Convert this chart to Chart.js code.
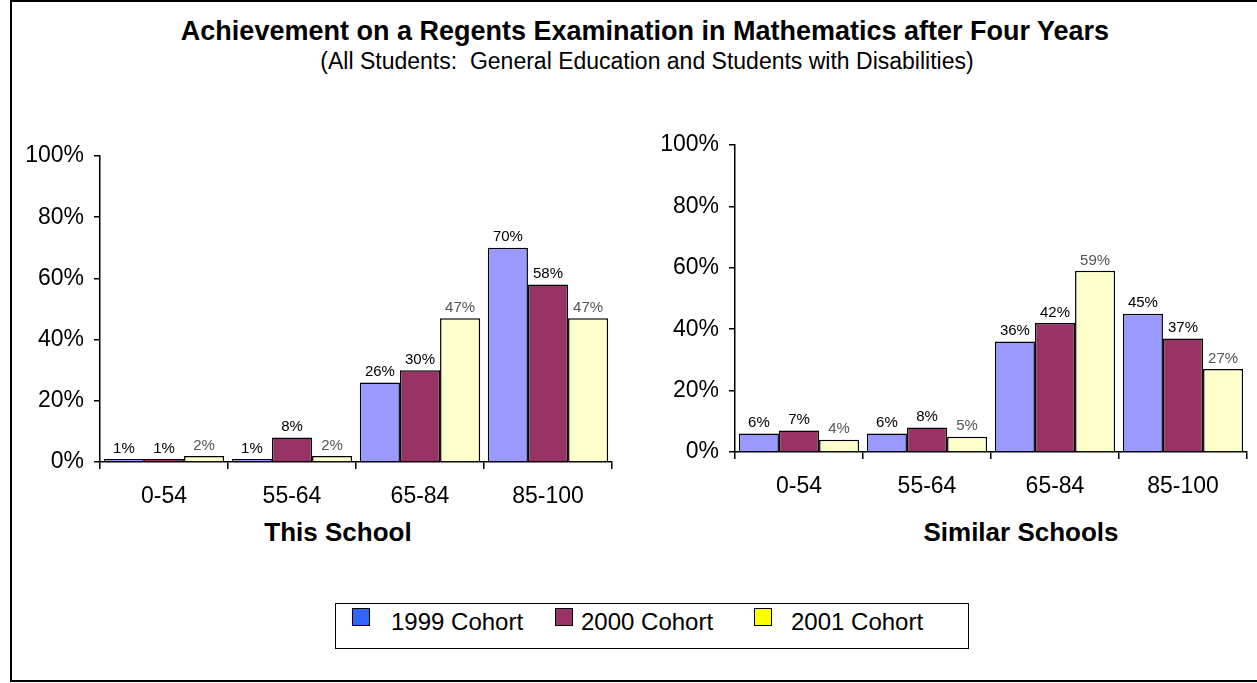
<!DOCTYPE html>
<html>
<head>
<meta charset="utf-8">
<script src="https://cdn.jsdelivr.net/npm/chart.js"></script>
<style>
  body { margin: 0; width: 1257px; height: 683px; overflow: hidden; background: #fff;
         font-family: "Liberation Sans", Arial, sans-serif; color: #000; }
  .frame { position: absolute; left: 10px; top: 0; width: 1270px; height: 682px;
           border: 2px solid #000; box-sizing: border-box; }
  .txt { position: absolute; white-space: nowrap; transform: translate(-50%, -50%); }
  #title { left: 645px; top: 31px; font-size: 27px; font-weight: bold; }
  #subtitle { left: 647px; top: 61px; font-size: 23px; }
  #leftName { left: 338px; top: 532px; font-size: 26px; font-weight: bold; }
  #rightName { left: 1021px; top: 532px; font-size: 26px; font-weight: bold; }
  .chartBox { position: absolute; }
  #leftBox { left: 10px; top: 140px; width: 610px; height: 372px; }
  #rightBox { left: 645px; top: 129px; width: 610px; height: 373px; }
  #legend { position: absolute; left: 335px; top: 603px; width: 634px; height: 46px;
            border: 1.5px solid #000; box-sizing: border-box; font-size: 24px; }
  .sw { position: absolute; width: 16px; height: 16px; border: 1.5px solid #000; }
  .lbl { position: absolute; line-height: 28px; }
</style>
</head>
<body>
<div class="frame"></div>
<div id="title" class="txt">Achievement on a Regents Examination in Mathematics after Four Years</div>
<div id="subtitle" class="txt">(All Students:&nbsp; General Education and Students with Disabilities)</div>

<div id="leftBox" class="chartBox"><canvas id="thisSchool"></canvas></div>
<div id="rightBox" class="chartBox"><canvas id="similarSchools"></canvas></div>

<div id="leftName" class="txt">This School</div>
<div id="rightName" class="txt">Similar Schools</div>

<div id="legend"></div>

<script>
const categories = ['0-54', '55-64', '65-84', '85-100'];
const cohorts = ['1999 Cohort', '2000 Cohort', '2001 Cohort'];

// This School
const school1999 = [1, 1, 26, 70];
const school2000 = [1, 8, 30, 58];
const school2001 = [2, 2, 47, 47];

// Similar Schools
const similar1999 = [6, 6, 36, 45];
const similar2000 = [7, 8, 42, 37];
const similar2001 = [4, 5, 59, 27];

const yTicks = [0, 20, 40, 60, 80, 100];

const barColors = ['#9999FF', '#993366', '#FFFFCC'];
const legendColors = ['#3366FF', '#993366', '#FFFF00'];
const labelColors = ['#000', '#000', '#555'];
const fontFamily = '"Liberation Sans", Arial, sans-serif';

// value labels above each bar
const valueLabels = {
  id: 'valueLabels',
  afterDatasetsDraw(chart) {
    const ctx = chart.ctx;
    ctx.save();
    ctx.font = '15px ' + fontFamily;
    ctx.textAlign = 'center';
    ctx.textBaseline = 'bottom';
    chart.data.datasets.forEach((ds, i) => {
      const meta = chart.getDatasetMeta(i);
      ctx.fillStyle = labelColors[i];
      meta.data.forEach((bar, j) => {
        ctx.fillText(ds.data[j] + '%', bar.x, bar.y - 3);
      });
    });
    ctx.restore();
  }
};

function makeChart(id, series) {
  return new Chart(document.getElementById(id), {
    type: 'bar',
    data: {
      labels: categories,
      datasets: series.map((d, i) => ({
        label: cohorts[i],
        data: d,
        backgroundColor: barColors[i],
        borderColor: '#000',
        borderWidth: 1.5,
        categoryPercentage: 0.94,
        barPercentage: 1
      }))
    },
    options: {
      responsive: true,
      maintainAspectRatio: false,
      animation: false,
      layout: { padding: { top: 16, right: 8, left: 0, bottom: 0 } },
      plugins: { legend: { display: false }, tooltip: { enabled: false } },
      scales: {
        x: {
          grid: { offset: true, drawOnChartArea: false, drawTicks: true, tickLength: 7, color: '#000', lineWidth: 1.5 },
          border: { color: '#000', width: 1.5 },
          ticks: { color: '#000', padding: 14, font: { family: fontFamily, size: 23 } },
          afterFit(scale) { scale.height = 50; scale.paddingLeft = 0; scale.paddingRight = 0; }
        },
        y: {
          min: 0,
          max: 100,
          afterBuildTicks(scale) { scale.ticks = yTicks.map(v => ({ value: v })); },
          grid: { drawOnChartArea: false, drawTicks: true, tickLength: 6, color: '#000', lineWidth: 1.5 },
          border: { color: '#000', width: 1.5 },
          ticks: { color: '#000', padding: 10, font: { family: fontFamily, size: 23 }, callback: v => v + '%' },
          afterFit(scale) { scale.width = 90; scale.paddingTop = 0; scale.paddingBottom = 0; }
        }
      }
    },
    plugins: [valueLabels]
  });
}

makeChart('thisSchool', [school1999, school2000, school2001]);
makeChart('similarSchools', [similar1999, similar2000, similar2001]);

// legend
const legend = document.getElementById('legend');
const itemPos = [[16, 55], [219, 245], [418, 455]];
cohorts.forEach((name, i) => {
  const sw = document.createElement('div');
  sw.className = 'sw';
  sw.style.left = itemPos[i][0] + 'px';
  sw.style.top = '4px';
  sw.style.background = legendColors[i];
  legend.appendChild(sw);
  const t = document.createElement('div');
  t.className = 'lbl';
  t.style.left = itemPos[i][1] + 'px';
  t.style.top = '4px';
  t.textContent = name;
  legend.appendChild(t);
});
</script>
</body>
</html>
